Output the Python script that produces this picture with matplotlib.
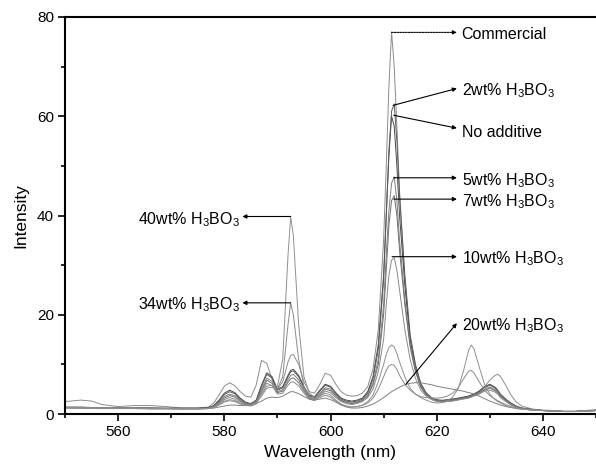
import matplotlib
matplotlib.use("Agg")
import matplotlib.pyplot as plt
from matplotlib.ticker import MultipleLocator

plt.rcParams['font.family'] = ['Liberation Sans', 'DejaVu Sans']
plt.rcParams['mathtext.default'] = 'regular'

# Wavelength grid (nm)
wavelength = [550, 551, 553, 555, 557, 560, 563, 566, 569, 572, 575,
              577, 578, 579, 580, 581, 582, 583, 584, 585, 586, 587, 588, 589, 590, 591,
              592, 592.5, 593, 594, 595, 596, 597, 598, 599, 600, 601, 602, 603, 604, 605,
              606, 607, 608, 609, 610,
              610.5, 611, 611.5, 612, 612.5, 613, 614, 615, 616, 617, 618, 619, 620,
              621, 622, 623, 624, 625, 626, 626.5, 627, 628, 629, 630, 631, 631.5, 632,
              633, 634, 635, 636,
              638, 640, 642, 644, 646, 648, 650]

commercial = [2.5, 2.6, 2.8, 2.6, 1.9, 1.5, 1.7, 1.7, 1.5, 1.2, 1.2,
              1.4, 2.2, 3.8, 5.6, 6.3, 5.7, 4.5, 3.6, 3.4, 5.8, 10.8, 10.2, 7.0, 5.0, 6.5,
              10.5, 11.8, 12.0, 10.0, 6.5, 4.5, 4.2, 6.0, 8.2, 7.8, 6.0, 4.5, 3.8, 3.6, 3.7,
              4.2, 5.5, 9.0, 17, 35,
              50, 66, 77, 70, 58, 45, 27, 15, 9, 5.5, 3.8, 3.2, 2.9,
              2.8, 2.9, 3.0, 3.1, 3.3, 3.6, 3.8, 4.0, 4.6, 5.5, 6.8, 7.8, 8.0, 7.6,
              5.8, 3.8, 2.4, 1.6,
              1.0, 0.8, 0.7, 0.6, 0.6, 0.7, 0.9]

no_additive = [1.4, 1.4, 1.4, 1.3, 1.3, 1.3, 1.3, 1.2, 1.2, 1.2, 1.2,
               1.3, 1.7, 2.8, 4.2, 4.8, 4.3, 3.2, 2.4, 2.1, 2.8, 5.8, 8.3, 7.5, 5.0, 5.5,
               7.8, 8.8, 9.0, 7.8, 5.5, 3.8, 3.5, 4.8, 6.0, 5.6, 4.3, 3.2, 2.8, 2.6, 2.8,
               3.2, 4.5, 7.5, 14, 28,
               40, 52, 60, 58, 50, 40, 26, 15, 9.5, 6.0, 4.2, 3.3, 2.8,
               2.7, 2.8, 3.0, 3.2, 3.4, 3.6, 3.8, 4.0, 4.6, 5.5, 6.0, 5.4, 4.8, 4.0,
               3.0, 2.2, 1.6, 1.2,
               0.9, 0.7, 0.6, 0.5, 0.5, 0.6, 0.7]

wt2 = [1.3, 1.3, 1.3, 1.3, 1.2, 1.2, 1.2, 1.2, 1.1, 1.1, 1.1,
       1.2, 1.6, 2.6, 3.9, 4.5, 4.1, 3.0, 2.2, 1.9, 2.6, 5.5, 8.0, 7.2, 4.8, 5.3,
       7.5, 8.5, 8.7, 7.5, 5.3, 3.6, 3.3, 4.6, 5.8, 5.4, 4.1, 3.0, 2.6, 2.4, 2.6,
       3.0, 4.2, 7.0, 13, 27,
       40, 53, 61, 62.5, 55, 44, 28, 16, 10, 6.2, 4.3, 3.3, 2.8,
       2.7, 2.8, 2.9, 3.1, 3.3, 3.5, 3.7, 3.9, 4.5, 5.3, 5.8, 5.2, 4.6, 3.9,
       2.9, 2.1, 1.5, 1.2,
       0.9, 0.7, 0.6, 0.5, 0.5, 0.6, 0.7]

wt5 = [1.3, 1.3, 1.3, 1.2, 1.2, 1.2, 1.2, 1.1, 1.1, 1.1, 1.1,
       1.2, 1.5, 2.4, 3.5, 4.0, 3.7, 2.8, 2.1, 1.8, 2.4, 5.0, 7.2, 6.6, 4.5, 4.9,
       6.9, 7.8, 8.0, 6.9, 4.9, 3.4, 3.1, 4.2, 5.3, 5.0, 3.8, 2.8, 2.4, 2.2, 2.4,
       2.8, 3.8, 6.2, 11, 22,
       32, 41, 46.5, 47.8, 43, 35, 23, 14, 8.8, 5.6, 4.0, 3.2, 2.7,
       2.6, 2.7, 2.8, 3.0, 3.2, 3.4, 3.6, 3.8, 4.3, 5.0, 5.4, 4.9, 4.4, 3.7,
       2.8, 2.0, 1.5, 1.1,
       0.9, 0.7, 0.6, 0.5, 0.5, 0.6, 0.7]

wt7 = [1.3, 1.2, 1.2, 1.2, 1.2, 1.1, 1.1, 1.1, 1.1, 1.0, 1.0,
       1.1, 1.4, 2.2, 3.2, 3.7, 3.4, 2.6, 1.9, 1.7, 2.2, 4.6, 6.8, 6.2, 4.3, 4.6,
       6.4, 7.1, 7.3, 6.3, 4.6, 3.2, 2.9, 3.9, 5.0, 4.7, 3.6, 2.7, 2.3, 2.1, 2.3,
       2.7, 3.6, 5.8, 10, 20,
       29, 38, 43, 44, 40, 33, 22, 13.5, 8.5, 5.4, 3.9, 3.1, 2.6,
       2.5, 2.6, 2.7, 2.9, 3.1, 3.3, 3.5, 3.7, 4.2, 4.8, 5.2, 4.7, 4.2, 3.5,
       2.7, 1.9, 1.4, 1.1,
       0.8, 0.7, 0.6, 0.5, 0.5, 0.6, 0.7]

wt10 = [1.2, 1.2, 1.2, 1.1, 1.1, 1.1, 1.1, 1.0, 1.0, 1.0, 1.0,
        1.1, 1.3, 2.0, 2.9, 3.3, 3.0, 2.3, 1.8, 1.6, 2.0, 4.2, 6.2, 5.7, 4.0, 4.2,
        5.8, 6.4, 6.5, 5.7, 4.2, 3.0, 2.7, 3.6, 4.6, 4.3, 3.3, 2.5, 2.1, 1.9, 2.1,
        2.5, 3.3, 5.0, 8.5, 15,
        22, 28, 31, 31.5, 29, 25, 17, 11, 7.2, 4.8, 3.6, 2.9, 2.5,
        2.4, 2.5, 2.6, 2.8, 3.0, 3.2, 3.4, 3.6, 4.0, 4.6, 4.8, 4.4, 4.0, 3.3,
        2.5, 1.8, 1.3, 1.0,
        0.8, 0.7, 0.6, 0.5, 0.5, 0.6, 0.7]

wt20 = [1.3, 1.3, 1.3, 1.3, 1.2, 1.2, 1.2, 1.2, 1.1, 1.1, 1.1,
        1.1, 1.2, 1.4, 1.6, 1.8, 1.8, 1.7, 1.7, 1.8, 2.1, 2.6, 3.2, 3.4, 3.3, 3.6,
        4.2, 4.5, 4.5, 4.1, 3.5, 3.0, 2.8, 3.0, 3.2, 2.9, 2.4, 1.8, 1.4, 1.2, 1.2,
        1.3, 1.6, 2.0, 2.6, 3.3,
        3.7, 4.1, 4.5, 4.8, 5.1, 5.4, 5.9, 6.2, 6.3, 6.3, 6.1, 5.9, 5.6,
        5.4, 5.2, 5.0, 4.8, 4.6, 4.3, 4.2, 4.0, 3.6, 3.1, 2.6, 2.2, 2.0, 1.8,
        1.5, 1.3, 1.1, 1.0,
        0.8, 0.7, 0.6, 0.5, 0.5, 0.6, 0.7]

wt34 = [1.3, 1.3, 1.3, 1.2, 1.2, 1.2, 1.2, 1.1, 1.1, 1.1, 1.1,
        1.1, 1.3, 1.8, 2.4, 2.7, 2.5, 2.0, 1.7, 1.7, 2.2, 3.6, 5.2, 5.4, 5.0, 7.5,
        18, 22.4, 20, 11, 5.5, 3.5, 3.0, 3.3, 3.8, 3.4, 2.6, 1.9, 1.6, 1.4, 1.5,
        1.7, 2.2, 3.2, 5.0, 7.5,
        8.8, 9.7, 10.0, 9.8, 9.0, 7.8, 6.0, 4.8, 4.0, 3.5, 3.3, 3.2, 3.2,
        3.3, 3.6, 4.2, 5.2, 7.0, 8.6, 8.8, 8.3, 6.5, 4.8, 3.7, 3.0, 2.7, 2.4,
        1.9, 1.5, 1.2, 1.0,
        0.8, 0.7, 0.6, 0.5, 0.5, 0.6, 0.7]

wt40 = [1.3, 1.3, 1.3, 1.2, 1.2, 1.2, 1.2, 1.1, 1.1, 1.1, 1.1,
        1.1, 1.3, 1.9, 2.6, 2.9, 2.7, 2.2, 1.8, 1.8, 2.4, 4.0, 5.6, 5.8, 5.5, 11,
        32, 39.7, 36, 18, 7.5, 4.2, 3.4, 3.6, 4.2, 3.8, 2.8, 2.0, 1.6, 1.4, 1.5,
        1.8, 2.5, 3.8, 6.5, 10,
        12, 13.4, 13.9, 13.5, 12.2, 10.5, 7.5, 5.2, 4.0, 3.3, 2.8, 2.4, 2.2,
        2.3, 2.6, 3.4, 5.0, 8.5, 12.8, 13.9, 13.2, 9.5, 6.0, 4.0, 2.9, 2.5, 2.2,
        1.7, 1.4, 1.1, 1.0,
        0.8, 0.7, 0.6, 0.5, 0.5, 0.6, 0.7]

series = [commercial, no_additive, wt2, wt5, wt7, wt10, wt20, wt34, wt40]
colors = ['#8c8c8c', '#4a4a4a', '#5a5a5a', '#808080', '#707070', '#8a8a8a', '#808080', '#8a8a8a', '#909090']

xticks = [560, 580, 600, 620, 640]
yticks = [0, 20, 40, 60, 80]

# annotation labels: (text, arrow start (x,y), arrow tip (x,y), text pos (x, baseline y), ha, linestyle)
labels = [
    ('Commercial', (611.5, 76.9), (623.8, 76.9), (624.7, 75.6), 'left', (0, (1.5, 1))),
    ('2wt% H$_3$BO$_3$', (611.8, 62.2), (623.8, 65.6), (624.7, 64.3), 'left', '-'),
    ('No additive', (611.9, 60.2), (623.8, 57.6), (624.7, 55.9), 'left', '-'),
    ('5wt% H$_3$BO$_3$', (611.9, 47.6), (623.8, 47.6), (624.7, 46.1), 'left', '-'),
    ('7wt% H$_3$BO$_3$', (611.9, 43.3), (623.8, 43.3), (624.7, 41.8), 'left', '-'),
    ('10wt% H$_3$BO$_3$', (611.6, 31.7), (623.8, 31.7), (624.7, 30.4), 'left', '-'),
    ('20wt% H$_3$BO$_3$', (614.2, 6.0), (623.8, 18.3), (624.7, 16.9), 'left', '-'),
    ('40wt% H$_3$BO$_3$', (592.5, 39.8), (583.4, 39.8), (582.9, 38.2), 'right', '-'),
    ('34wt% H$_3$BO$_3$', (592.5, 22.4), (583.4, 22.4), (582.9, 21.0), 'right', '-'),
]

fig = plt.figure(figsize=(5.96, 4.71), dpi=100)
ax = fig.add_axes([65 / 596, 57 / 471, 531 / 596, 397 / 471])

for s, c in zip(series, colors):
    ax.plot(wavelength, s, color=c, lw=0.7)

for text, start, tip, tpos, ha, ls in labels:
    ax.annotate('', xy=tip, xytext=start,
                arrowprops=dict(arrowstyle='-|>', color='black', lw=0.8, ls=ls,
                                mutation_scale=6, shrinkA=0, shrinkB=0))
    ax.text(tpos[0], tpos[1], text, ha=ha, va='baseline', fontsize=11.5)

ax.set_xlim(550, 650)
ax.set_ylim(0, 80)
ax.set_xticks(xticks)
ax.set_yticks(yticks)
ax.xaxis.set_minor_locator(MultipleLocator(10))
ax.yaxis.set_minor_locator(MultipleLocator(10))
ax.tick_params(which='major', direction='out', length=5, width=1.2, labelsize=11, pad=3)
ax.tick_params(which='minor', direction='out', length=3, width=1.2)
ax.tick_params(top=False, right=False)
for side in ['left', 'bottom', 'top']:
    ax.spines[side].set_linewidth(1.5)
ax.spines['right'].set_visible(False)

ax.set_xlabel('Wavelength (nm)', fontsize=12.5, labelpad=4)
ax.set_ylabel('Intensity', fontsize=12.5, labelpad=6)

fig.savefig('out.png', dpi=100)
